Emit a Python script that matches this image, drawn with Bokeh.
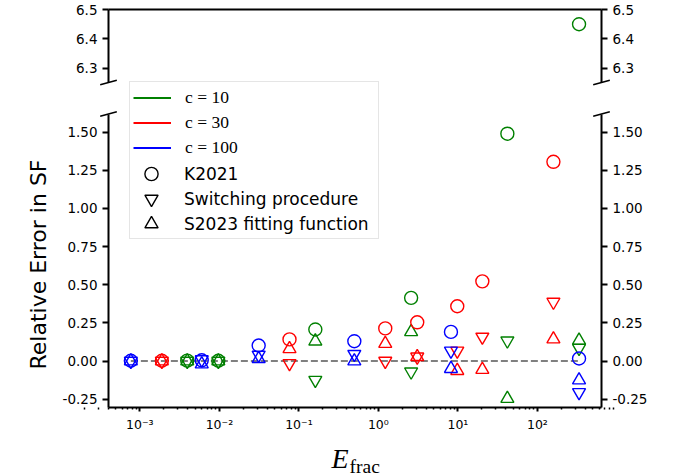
import math
import numpy as np
from bokeh.plotting import figure
from bokeh.models import (Range1d, LinearAxis, LogAxis, FixedTicker, CustomJSTickFormatter,
                          Legend, LegendItem, Label, Arrow)
from bokeh.embed import file_html
from bokeh.resources import INLINE

# ---------------- data ----------------
C_LABELS = ["c = 10", "c = 30", "c = 100"]
COLORS = ["green", "red", "blue"]
METHOD_LABELS = ["K2021", "Switching procedure", "S2023 fitting function"]
MARKERS = ["circle", "inverted_triangle", "triangle"]

E_c10 = [3.94e-3, 9.7e-3, 0.161, 2.58, 41.9, 334.0]
K2021_c10 = [0.003, 0.002, 0.207, 0.414, 1.489, 6.45]
SWITCH_c10 = [0.0, 0.0, -0.125, -0.070, 0.133, 0.085]
S2023_c10 = [0.0, 0.0, 0.130, 0.191, -0.246, 0.135]

E_c30 = [1.89e-3, 0.0762, 1.22, 3.08, 9.82, 20.3, 159.0]
K2021_c30 = [0.002, 0.142, 0.214, 0.254, 0.359, 0.522, 1.305]
SWITCH_c30 = [0.0, -0.015, 0.0, 0.028, 0.067, 0.158, 0.387]
S2023_c30 = [0.0, 0.080, 0.114, 0.028, -0.063, -0.056, 0.144]

E_c100 = [7.7e-4, 6.0e-3, 0.0312, 0.498, 8.18, 334.0]
K2021_c100 = [0.002, 0.005, 0.102, 0.130, 0.191, 0.017]
SWITCH_c100 = [0.0, 0.010, 0.040, 0.045, 0.067, -0.205]
S2023_c100 = [0.0, -0.020, 0.015, 0.0, -0.050, -0.125]

XTICKS = [1e-3, 1e-2, 1e-1, 1e0, 1e1, 1e2]
YTICKS_BOTTOM = [-0.25, 0.0, 0.25, 0.5, 0.75, 1.0, 1.25, 1.5]
YTICKS_TOP = [6.3, 6.4, 6.5]

XLIM = (4.03e-4, 640.0)
YLIM_BOTTOM = (-0.304, 1.618)
YLIM_TOP = (6.252, 6.5)

series = [
    (E_c10, [K2021_c10, SWITCH_c10, S2023_c10], COLORS[0]),
    (E_c30, [K2021_c30, SWITCH_c30, S2023_c30], COLORS[1]),
    (E_c100, [K2021_c100, SWITCH_c100, S2023_c100], COLORS[2]),
]

# ---------------- layout (pixels; the plot frame covers the whole canvas) ----------------
W, H = 688, 476
AX_LEFT, AX_RIGHT = 108, 601
TOP_PX = (9, 82)          # top panel (screen y from top)
BOT_PX = (113.5, 407)     # bottom panel

lx0, lx1 = math.log10(XLIM[0]), math.log10(XLIM[1])
kx = (AX_RIGHT - AX_LEFT) / (lx1 - lx0)
x_full = (10 ** (lx0 - AX_LEFT / kx), 10 ** (lx1 + (W - AX_RIGHT) / kx))
ppu_b = (BOT_PX[1] - BOT_PX[0]) / (YLIM_BOTTOM[1] - YLIM_BOTTOM[0])
y_full_b = (YLIM_BOTTOM[0] - (H - BOT_PX[1]) / ppu_b, YLIM_BOTTOM[1] + BOT_PX[0] / ppu_b)
ppu_t = (TOP_PX[1] - TOP_PX[0]) / (YLIM_TOP[1] - YLIM_TOP[0])
y_full_t = (YLIM_TOP[0] - (H - TOP_PX[1]) / ppu_t, YLIM_TOP[1] + TOP_PX[0] / ppu_t)

p = figure(width=W, height=H, x_axis_type="log",
           x_range=Range1d(*x_full), y_range=Range1d(*y_full_b),
           output_backend="svg", toolbar_location=None,
           min_border=0, min_border_left=0, min_border_right=0,
           min_border_top=0, min_border_bottom=0,
           outline_line_color=None, background_fill_color="white",
           border_fill_color="white")
p.title.visible = False
p.extra_y_ranges = {"top": Range1d(*y_full_t)}
p.xgrid.visible = False
p.ygrid.visible = False

fmt2 = CustomJSTickFormatter(code="return tick.toFixed(2);")
fmt1 = CustomJSTickFormatter(code="return tick.toFixed(1);")
fmt_log = CustomJSTickFormatter(code=r"""
const e = Math.round(Math.log10(tick));
const m = {"-": "\u207b", "0": "\u2070", "1": "\u00b9", "2": "\u00b2", "3": "\u00b3",
           "4": "\u2074", "5": "\u2075", "6": "\u2076", "7": "\u2077", "8": "\u2078", "9": "\u2079"};
let s = "";
for (const ch of String(e)) { s += m[ch]; }
return "10" + s;
""")


def style_axis(ax, tick_out, font_size="13.5px"):
    ax.axis_line_width = 2
    ax.axis_line_color = "black"
    ax.major_tick_line_width = 2
    ax.major_tick_line_color = "black"
    ax.major_tick_out = tick_out
    ax.major_tick_in = 0
    ax.minor_tick_line_width = 1.5
    ax.minor_tick_line_color = "black"
    ax.minor_tick_out = 2
    ax.minor_tick_in = 0
    ax.major_label_text_font = "DejaVu Sans"
    ax.major_label_text_font_size = font_size
    ax.major_label_text_color = "black"
    ax.major_label_standoff = 5


# x axis (bottom spine of the lower panel)
xminor = [k * 10.0 ** n for n in range(-4, 3) for k in range(2, 10)]
xa = p.xaxis[0]
xa.ticker = FixedTicker(ticks=XTICKS, minor_ticks=xminor)
xa.formatter = fmt_log
xa.bounds = XLIM
xa.fixed_location = YLIM_BOTTOM[0]
style_axis(xa, 4, "12.5px")

# top spine of the upper panel
top_spine = LogAxis(y_range_name="top", ticker=FixedTicker(ticks=[]),
                    major_label_text_font_size="0px",
                    major_tick_line_color=None, minor_tick_line_color=None,
                    axis_line_width=2, axis_line_color="black",
                    bounds=XLIM, fixed_location=YLIM_TOP[1])
p.add_layout(top_spine, "above")

# left / right axes of the lower panel
ya = p.yaxis[0]
ya.ticker = FixedTicker(ticks=YTICKS_BOTTOM, minor_ticks=[])
ya.formatter = fmt2
ya.bounds = YLIM_BOTTOM
ya.fixed_location = XLIM[0]
style_axis(ya, 6)

yr = LinearAxis(ticker=FixedTicker(ticks=YTICKS_BOTTOM, minor_ticks=[]), formatter=fmt2,
                bounds=YLIM_BOTTOM, fixed_location=XLIM[1])
style_axis(yr, 6)
p.add_layout(yr, "right")

# left / right axes of the upper panel
ytl = LinearAxis(y_range_name="top", ticker=FixedTicker(ticks=YTICKS_TOP, minor_ticks=[]),
                 formatter=fmt1, bounds=YLIM_TOP, fixed_location=XLIM[0])
style_axis(ytl, 6)
p.add_layout(ytl, "left")
ytr = LinearAxis(y_range_name="top", ticker=FixedTicker(ticks=YTICKS_TOP, minor_ticks=[]),
                 formatter=fmt1, bounds=YLIM_TOP, fixed_location=XLIM[1])
style_axis(ytr, 6)
p.add_layout(ytr, "right")

# zero reference line across the data extent
all_E = E_c10 + E_c30 + E_c100
p.line(x=[min(all_E), max(all_E)], y=[0, 0], line_color="gray", line_width=2,
       line_dash="7 3")

# data markers, drawn against both panels' ranges (as in a broken axis)
for E, vals, col in series:
    for v, mk in zip(vals, MARKERS):
        for rn in ("default", "top"):
            p.scatter(x=E, y=v, marker=mk, size=13, line_color=col, fill_color=None,
                      line_width=1.4, y_range_name=rn)

# break marks at the panel edges
dx_dec = 8.3 / kx
for xc in XLIM:
    for yc, ppu, rn in ((YLIM_TOP[0], ppu_t, "top"), (YLIM_BOTTOM[1], ppu_b, "default")):
        dy = 2.3 / ppu
        p.add_layout(Arrow(x_start=xc * 10 ** (-dx_dec), y_start=yc - dy,
                           x_end=xc * 10 ** dx_dec, y_end=yc + dy,
                           start=None, end=None, line_width=1.5, line_color="black",
                           y_range_name=rn))

# legend: proxy renderers
line_proxies = [p.line(x=np.array([np.nan]), y=np.array([np.nan]), line_color=col, line_width=2)
                for col in COLORS]
marker_proxies = [p.scatter(x=np.array([np.nan]), y=np.array([np.nan]), marker=mk, size=13,
                            line_color="black", fill_color=None, line_width=1.4)
                  for mk in MARKERS]
blank_proxy = p.line(x=np.array([np.nan]), y=np.array([np.nan]), line_alpha=0)

LEG_LEFT, LEG_TOP, LEG_PAD, ROW_H = 129, 83, 3, 25
N_ROWS = len(C_LABELS) + len(METHOD_LABELS)
LEG_H = 2 * LEG_PAD + N_ROWS * ROW_H
items1 = [LegendItem(label=lab, renderers=[r]) for lab, r in zip(C_LABELS, line_proxies)]
items1 += [LegendItem(label=" ", renderers=[blank_proxy]) for _ in METHOD_LABELS]
leg1 = Legend(items=items1, location=(LEG_LEFT, H - LEG_TOP - LEG_H), margin=0,
              padding=LEG_PAD, spacing=0, glyph_width=38, glyph_height=ROW_H,
              label_height=ROW_H, label_standoff=14, label_width=190,
              label_text_font="Liberation Serif", label_text_font_size="17.5px",
              label_text_color="black",
              border_line_color="#cccccc", border_line_width=1,
              background_fill_color="white", background_fill_alpha=0.8)
p.add_layout(leg1, "center")

# marker rows: one small legend each, so the symbols can be drawn at full size
for i, (lab, r) in enumerate(zip(METHOD_LABELS, marker_proxies)):
    cy = LEG_TOP + LEG_PAD + ROW_H / 2 + ROW_H * (len(C_LABELS) + i)
    leg = Legend(items=[LegendItem(label=lab, renderers=[r])],
                 location=(LEG_LEFT + LEG_PAD, H - cy - 16.5), margin=0, padding=0,
                 spacing=0, glyph_width=38, glyph_height=33, label_standoff=14,
                 label_text_font="DejaVu Sans", label_text_font_size="17px",
                 label_text_color="black", border_line_color=None,
                 background_fill_color=None)
    p.add_layout(leg, "center")

# axis titles
p.add_layout(Label(x=38, y=H - 264, x_units="screen", y_units="screen",
                   text="Relative Error in SF", angle=math.pi / 2,
                   text_font="DejaVu Sans", text_font_size="22px", text_color="black",
                   text_align="center", text_baseline="alphabetic"))
p.add_layout(Label(x=331, y=H - 457.5, x_units="screen", y_units="screen", text="E",
                   text_font="Liberation Serif", text_font_style="italic",
                   text_font_size="28px", text_color="black", text_baseline="alphabetic"))
p.add_layout(Label(x=349, y=H - 465.5, x_units="screen", y_units="screen", text="frac",
                   text_font="Liberation Serif", text_font_size="19.5px",
                   text_color="black", text_baseline="alphabetic"))

open("out.html", "w").write(file_html(p, INLINE))
